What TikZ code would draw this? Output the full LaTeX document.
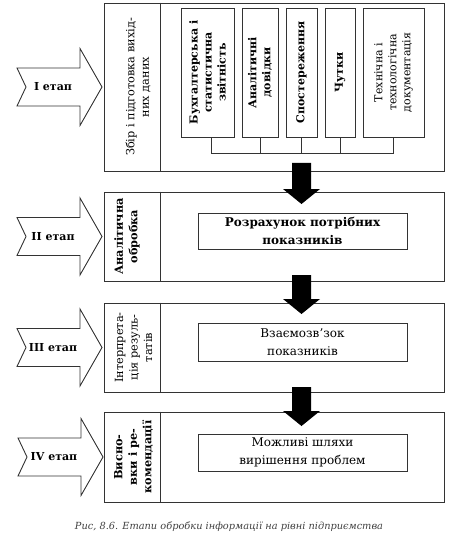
\documentclass[tikz,border=0pt]{standalone}
\usepackage{fontspec}
\setmainfont{DejaVu Serif}
\usetikzlibrary{calc}
\newcommand\blkarrow[2]{%
  \fill[black] let \p1=(#1), \p2=(#2) in
    (\x1-9.5pt,\y1) -- (\x1+9.5pt,\y1) -- (\x1+9.5pt,\y2+15pt) -- (\x1+18.5pt,\y2+15pt)
    -- (\x2,\y2) -- (\x1-18.5pt,\y2+15pt) -- (\x1-9.5pt,\y2+15pt) -- cycle;}
\newcommand\stagearrow[3]{%
  \draw[line, fill=white] let \p1=(#1) in
    (\x1-85pt,\y1+19pt) -- (\x1-22pt,\y1+19pt) -- (\x1-22pt,\y1+38.5pt) -- (\x1,\y1)
    -- (\x1-22pt,\y1-38.5pt) -- (\x1-22pt,\y1-19pt) -- (\x1-85pt,\y1-19pt)
    -- (\x1-76pt,\y1) -- cycle;
  \node[arrowlabel] (#2) at ($(#1)+(-49pt,0)$) {#3};}
\begin{document}
\begin{tikzpicture}[x=1pt,y=1pt,
  line/.style={draw=black!80, line width=0.9pt},
  stagebox/.style={line, minimum width=340pt, inner sep=0pt},
  srcbox/.style={line, minimum height=129pt, inner sep=0pt},
  resbox/.style={line, minimum width=209pt, inner sep=0pt, align=center},
  coltext/.style={rotate=90, align=center, font=\fontsize{11.3}{14.5}\selectfont, inner sep=0pt},
  coltextb/.style={coltext, font=\fontsize{11.3}{14.5}\selectfont\bfseries},
  srctext/.style={rotate=90, align=center, font=\fontsize{11}{14}\selectfont, inner sep=0pt},
  srctextb/.style={srctext, font=\fontsize{11}{14}\selectfont\bfseries},
  arrowlabel/.style={font=\fontsize{11}{13}\selectfont\bfseries, inner sep=0pt},
  restext/.style={font=\fontsize{12}{18}\selectfont, align=center},
  restextb/.style={restext, font=\fontsize{12}{18}\selectfont\bfseries}
]
\useasboundingbox (0,0) rectangle (454,-540);

% stage boxes
\node[stagebox, minimum height=168pt] (s1) at (274,-87) {};
\node[stagebox, minimum height=89pt] (s2) at (274,-236.5) {};
\node[stagebox, minimum height=89pt] (s3) at (274,-347.5) {};
\node[stagebox, minimum height=90pt] (s4) at (274,-457) {};
\foreach \s in {s1,s2,s3,s4}
  \draw[line] ($(\s.north west)+(57pt,0)$) -- ($(\s.south west)+(57pt,0)$);

% column texts
\node[coltext] (c1) at (138,-87) {Збір і підготовка вихід-\\них даних};
\node[coltextb] (c2) at (127,-236.5) {Аналітична\\обробка};
\node[coltext] (c3) at (133.5,-347.5) {Інтерпрета-\\ція резуль-\\татів};
\node[coltextb] (c4) at (133.5,-457) {Висно-\\вки і ре-\\комендації};

% source boxes of stage I
\node[srcbox, minimum width=53pt] (b1) at (207.5,-72.5) {};
\node[srcbox, minimum width=36pt] (b2) at (260,-72.5) {};
\node[srcbox, minimum width=31pt] (b3) at (301.5,-72.5) {};
\node[srcbox, minimum width=30pt] (b4) at (340,-72.5) {};
\node[srcbox, minimum width=61pt] (b5) at (393.5,-72.5) {};
\node[srctextb] (t1) at (b1) {Бухгалтерська і\\статистична\\звітність};
\node[srctextb] (t2) at (b2) {Аналітичні\\довідки};
\node[srctextb] (t3) at (b3) {Спостереження};
\node[srctextb] (t4) at (b4) {Чутки};
\node[srctext] (t5) at (b5) {Технічна і\\технологічна\\документація};

\coordinate (bus1) at (211,-153);
\coordinate (bus5) at (393.5,-153);
\draw[line] ($(b1.south)+(3.5pt,0)$) -- (bus1) -- (bus5) -- (b5.south);
\foreach \b in {b2,b3,b4}
  \draw[line] (\b.south) -- (\b.south |- bus1);

% result boxes
\node[resbox, minimum height=36pt] (r2) at (302.5,-231) {};
\node[restextb] (q2) at (r2) {Розрахунок потрібних\\показників};
\node[resbox, minimum height=38pt] (r3) at (302.5,-342) {};
\node[restext] (q3) at (r3) {Взаємозв’зок\\показників};
\node[resbox, minimum height=37pt] (r4) at (302.5,-452.5) {};
\node[restext] (q4) at (r4) {Можливі шляхи\\вирішення проблем};

% black arrows between stages
\coordinate (a1s) at (301.5,-163); \coordinate (a1e) at (301.5,-204);
\coordinate (a2s) at (301.5,-275); \coordinate (a2e) at (301.5,-314);
\coordinate (a3s) at (301.5,-387); \coordinate (a3e) at (301.5,-426);
\blkarrow{a1s}{a1e}
\blkarrow{a2s}{a2e}
\blkarrow{a3s}{a3e}

% stage arrows
\coordinate (p1) at (102,-87);
\coordinate (p2) at (102,-236.5);
\coordinate (p3) at (102,-347.5);
\coordinate (p4) at (103,-457);
\stagearrow{p1}{l1}{I етап}
\stagearrow{p2}{l2}{II етап}
\stagearrow{p3}{l3}{III етап}
\stagearrow{p4}{l4}{IV етап}

% caption
\node[font=\fontsize{9.8}{11}\selectfont\itshape, text=black!75] (cap) at (229,-527) {Рис, 8.6. Етапи обробки інформації на рівні підприємства};
\end{tikzpicture}
\end{document}
